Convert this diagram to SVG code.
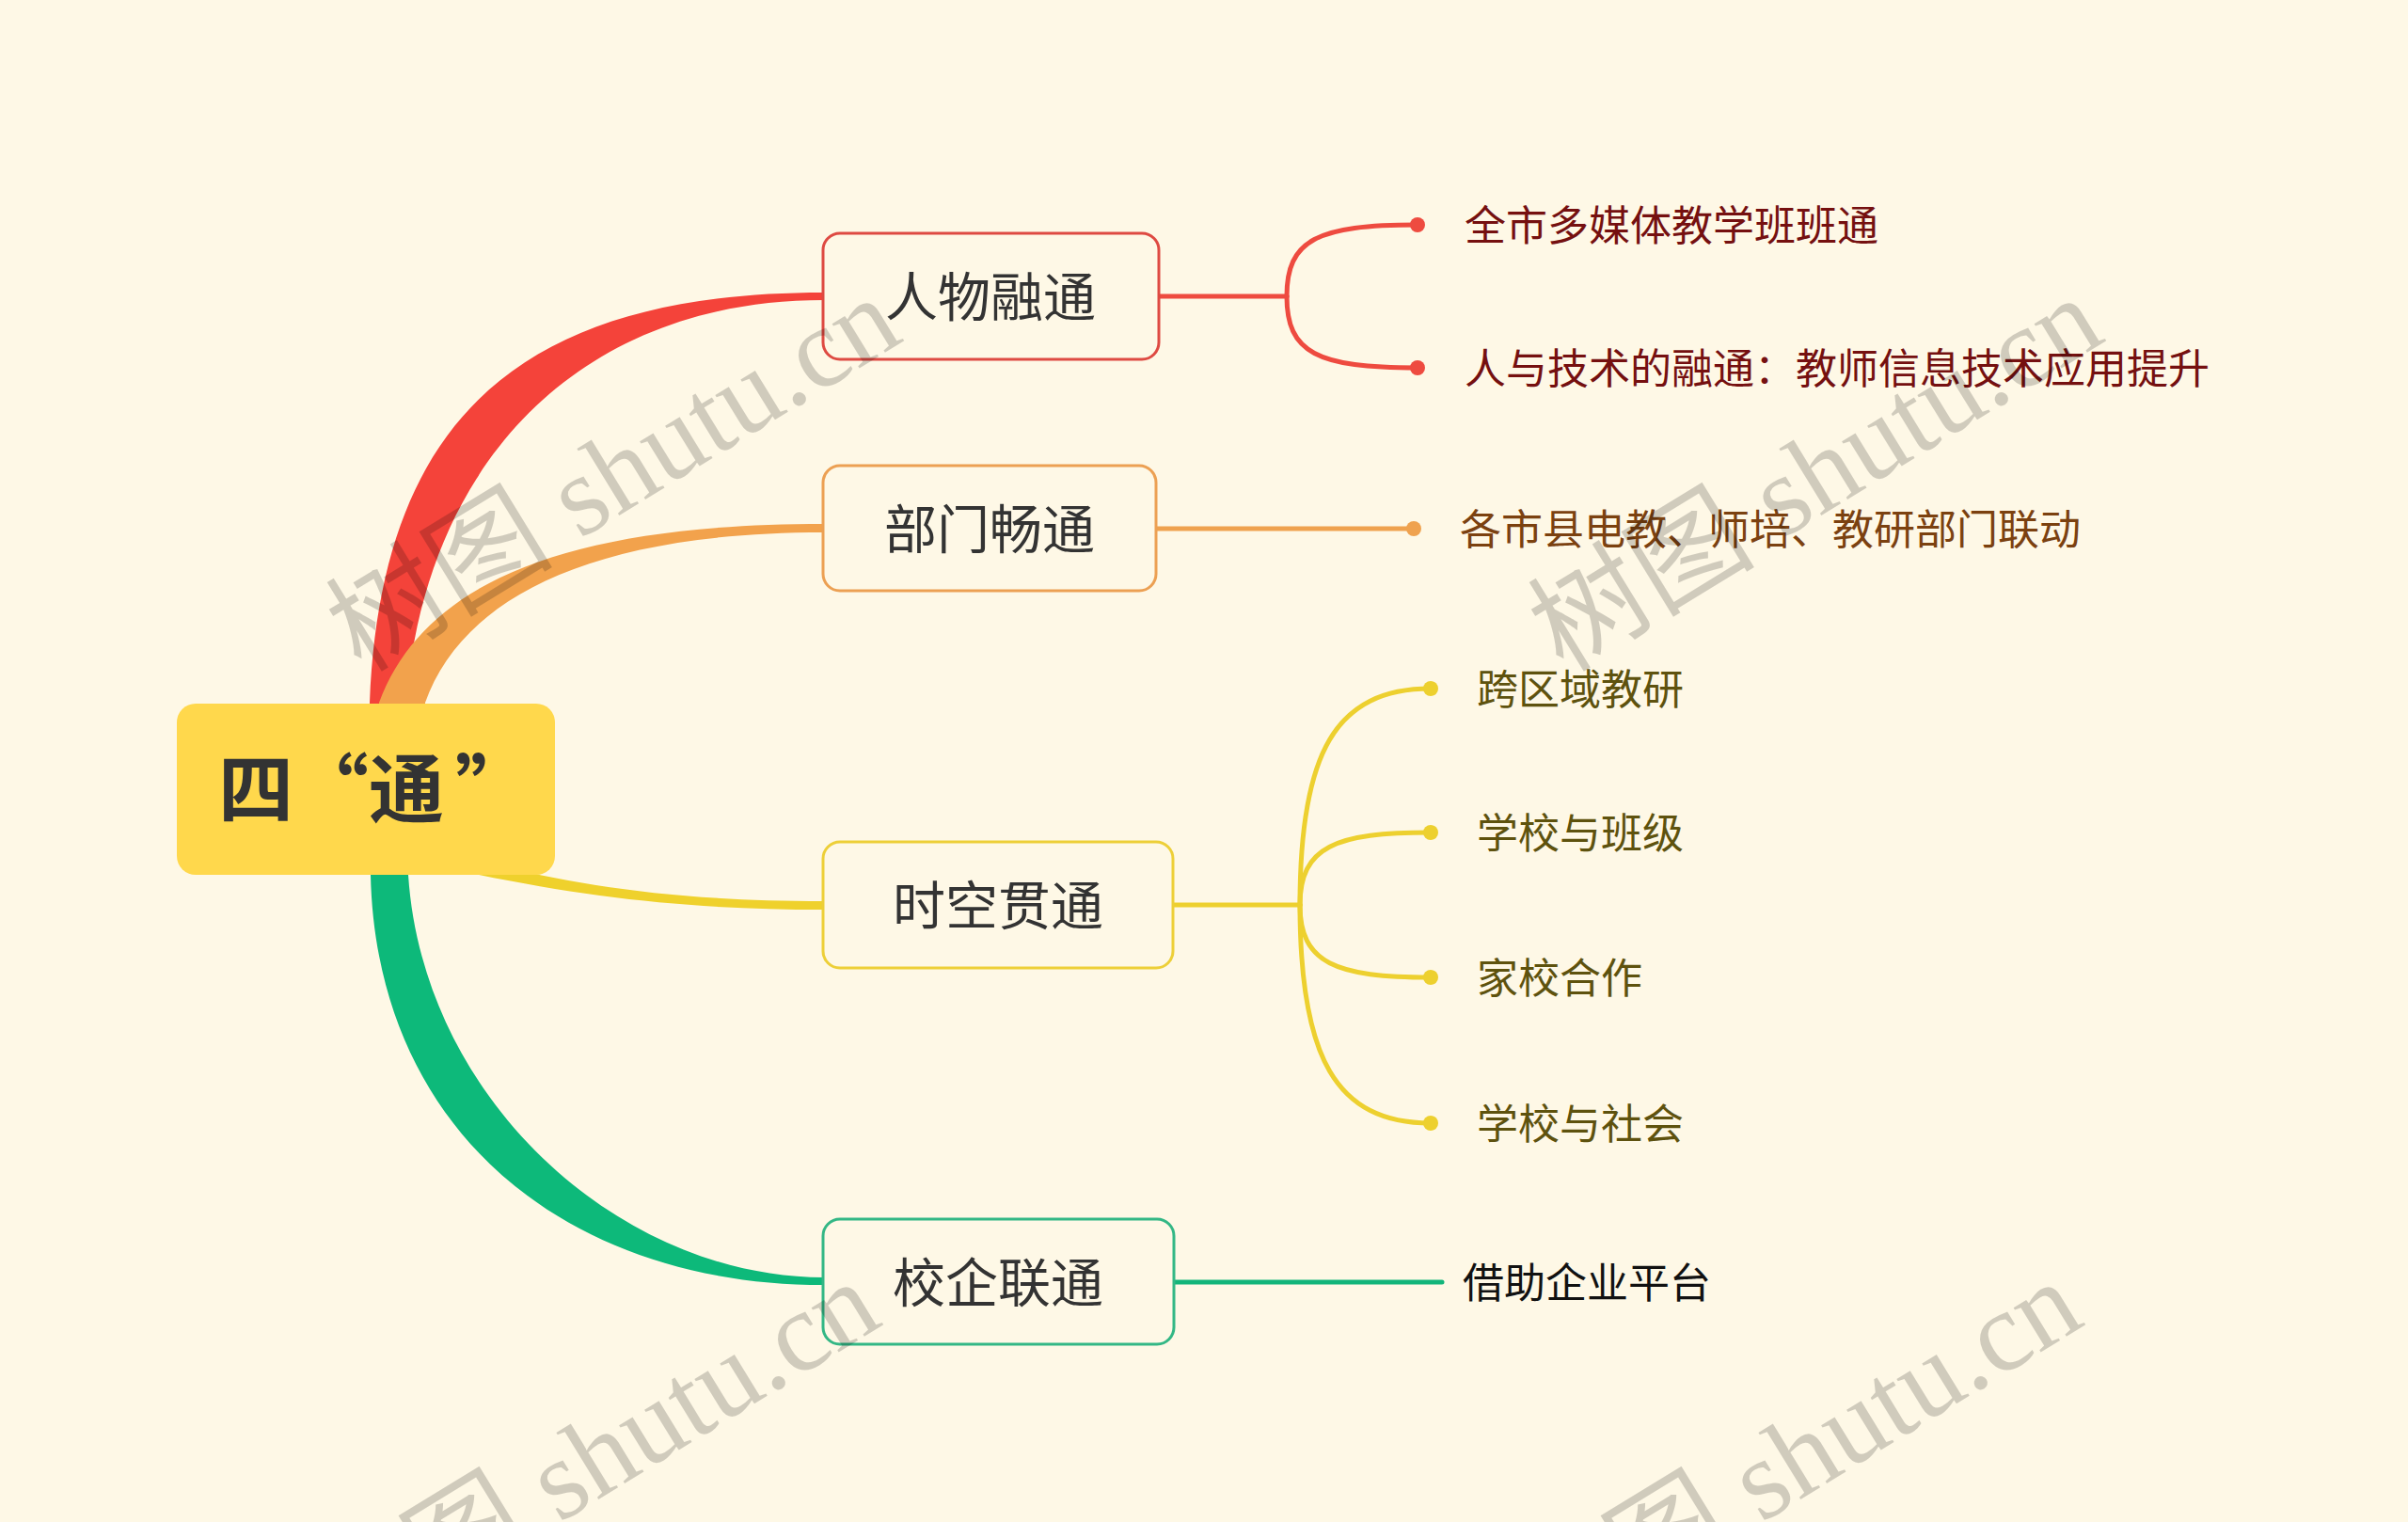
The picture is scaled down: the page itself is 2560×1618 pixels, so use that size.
<svg xmlns="http://www.w3.org/2000/svg" width="2560" height="1618" viewBox="0 0 2560 1618">
<defs>
<style>
.node{fill:#FEF8E6;stroke-width:3}
.bt{font-family:"Noto Sans CJK SC","Noto Sans",sans-serif;font-size:56px;fill:#333333;text-anchor:middle}
.lt{font-family:"Noto Sans CJK SC","Noto Sans",sans-serif;font-size:44px}
.ln{fill:none;stroke-width:5;stroke-linecap:round}
.wm{font-family:"Liberation Serif","Noto Sans CJK SC",serif;font-size:121px;fill:#000000;fill-opacity:0.18}
</style>
</defs>
<rect x="0" y="0" width="2560" height="1618" fill="#FEF8E6"/>
<g id="connectors">
<path d="M 392 770 L 393 747 C 405 440, 560 311, 876 311 L 876 319 C 610 319, 450 500, 432 748 L 431 770 Z" fill="#F4433A"/>
<path d="M 402 770 L 403 747 C 450 620, 600 557, 876 557 L 876 566 C 620 566, 490 640, 452 747 L 452 770 Z" fill="#F2A24C"/>
<path d="M 520 918 C 620 942, 720 958, 876 958 L 876 967 C 720 967, 600 952, 440 915 Z" fill="#EFD12C"/>
<path d="M 394 905 L 394 930 C 400 1200, 600 1366, 876 1366 L 876 1358 C 660 1358, 450 1170, 434 930 L 434 905 Z" fill="#0DB97A"/>
<g stroke="#EE4B40" class="ln">
<path d="M 1232 315 H 1368"/>
<path d="M 1368 315 C 1368 255, 1400 239, 1507 239"/>
<path d="M 1368 315 C 1368 375, 1400 391, 1507 391"/>
</g>
<circle cx="1507" cy="239" r="8" fill="#EE4B40"/>
<circle cx="1507" cy="391" r="8" fill="#EE4B40"/>
<path d="M 1229 562 H 1503" stroke="#EFA24F" class="ln"/>
<circle cx="1503" cy="562" r="8" fill="#EFA24F"/>
<g stroke="#EDD02F" class="ln">
<path d="M 1247 962 H 1382"/>
<path d="M 1382 962 C 1382 800, 1420 732, 1521 732"/>
<path d="M 1382 962 C 1382 900, 1420 885, 1521 885"/>
<path d="M 1382 962 C 1382 1024, 1420 1039, 1521 1039"/>
<path d="M 1382 962 C 1382 1124, 1420 1194, 1521 1194"/>
</g>
<circle cx="1521" cy="732" r="8" fill="#EDD02F"/>
<circle cx="1521" cy="885" r="8" fill="#EDD02F"/>
<circle cx="1521" cy="1039" r="8" fill="#EDD02F"/>
<circle cx="1521" cy="1194" r="8" fill="#EDD02F"/>
<path d="M 1248 1363 H 1533" stroke="#13B57A" class="ln" stroke-linecap="butt"/>
</g>
<g id="root">
<rect x="188" y="748" width="402" height="182" rx="20" fill="#FFD84C"/>
<text x="398" y="868" font-family="Noto Sans CJK SC, sans-serif" font-size="80" font-weight="700" fill="#333333" text-anchor="middle">四“通<tspan dx="12">”</tspan></text>
</g>
<g id="n1">
<rect x="875" y="248" width="357" height="134" rx="18" class="node" stroke="#DE4A42"/>
<text x="1053" y="336" class="bt">人物融通</text>
</g>
<g id="n2">
<rect x="875" y="495" width="354" height="133" rx="18" class="node" stroke="#ECA053"/>
<text x="1052" y="583" class="bt">部门畅通</text>
</g>
<g id="n3">
<rect x="875" y="895" width="372" height="134" rx="18" class="node" stroke="#EDCF38"/>
<text x="1061" y="983" class="bt">时空贯通</text>
</g>
<g id="n4">
<rect x="875" y="1296" width="373" height="133" rx="18" class="node" stroke="#33B785"/>
<text x="1061" y="1384" class="bt">校企联通</text>
</g>
<g id="l1"><text x="1557" y="256" class="lt" fill="#751010">全市多媒体教学班班通</text></g>
<g id="l2"><text x="1557" y="408" class="lt" fill="#751010">人与技术的融通：教师信息技术应用提升</text></g>
<g id="l3"><text x="1552" y="579" class="lt" fill="#7B4110">各市县电教、师培、教研部门联动</text></g>
<g id="l4"><text x="1570" y="749" class="lt" fill="#5E520E">跨区域教研</text></g>
<g id="l5"><text x="1570" y="902" class="lt" fill="#5E520E">学校与班级</text></g>
<g id="l6"><text x="1570" y="1056" class="lt" fill="#5E520E">家校合作</text></g>
<g id="l7"><text x="1570" y="1211" class="lt" fill="#5E520E">学校与社会</text></g>
<g id="l8"><text x="1555" y="1380" class="lt" fill="#111111">借助企业平台</text></g>
<g id="watermarks">
<text class="wm" transform="translate(384 716) rotate(-31.5)">树图 shutu.cn</text>
<text class="wm" transform="translate(1662 716) rotate(-31.5)">树图 shutu.cn</text>
<text class="wm" transform="translate(362 1762) rotate(-31.5)">树图 shutu.cn</text>
<text class="wm" transform="translate(1640 1762) rotate(-31.5)">树图 shutu.cn</text>
</g>
</svg>
